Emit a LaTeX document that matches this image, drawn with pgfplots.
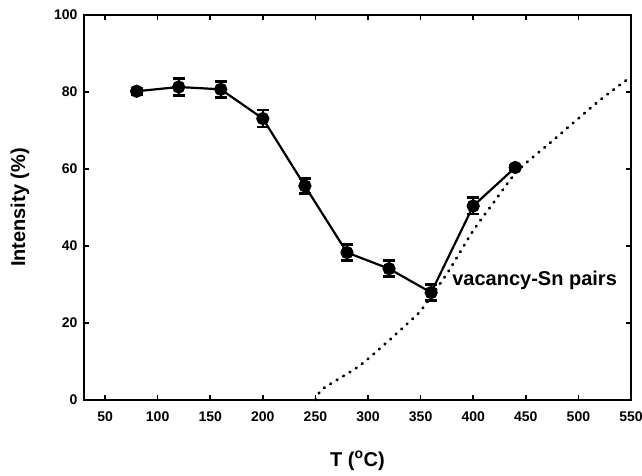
\documentclass[border=0pt]{standalone}
\usepackage{fontspec}
\setmainfont{Liberation Sans}
\usepackage{pgfplots}
\pgfplotsset{compat=1.18}

\begin{document}
\begin{tikzpicture}
\begin{axis}[
    scale only axis,
    width=547pt, height=385pt,
    xmin=30, xmax=550, ymin=0, ymax=100,
    xtick={50,100,...,550}, ytick={0,20,...,100},
    tick align=inside, major tick length=5pt,
    every tick/.style={line width=1.6pt, black},
    axis line style={line width=2.4pt},
    tick label style={font=\fontsize{14}{16}\selectfont\bfseries},
    xticklabel style={yshift=-8.5pt},
    yticklabel style={xshift=-3pt},
    /pgf/number format/assume math mode=true,
    xlabel={T (\textsuperscript{o}C)},
    ylabel={Intensity (\%)},
    label style={font=\fontsize{20}{22}\selectfont\bfseries},
    xlabel style={at={(axis description cs:0.5,-0.158)}, anchor=center},
    ylabel style={at={(axis description cs:-0.117,0.5)}, anchor=center},
    clip=false,
]
% vacancy-Sn pairs curve
\addplot[black, line width=2.8pt, line cap=round, dash pattern=on 0.8pt off 6.7pt, smooth, tension=0.4] coordinates {
    (250,0) (257,2.9) (291,8.7) (318,15) (338,20) (351,23.5)
    (375,32.8) (400,44) (420,51.5) (442,59.5) (474,67) (488,70.3)
    (521,78) (550,84)
};
% measured intensity
\addplot[black, line width=2.2pt, mark=*, mark size=5.5pt,
    error bars/.cd, y dir=both, y explicit,
    error bar style={line width=2.2pt},
    error mark options={rotate=90, mark size=6pt, line width=2.8pt}]
    table[x=T, y=I, y error=e] {
T   I     e
80  80.2  0.8
120 81.3  2.2
160 80.7  2.1
200 73.1  2.2
240 55.6  2.0
280 38.3  2.0
320 34.1  2.1
360 27.9  2.1
400 50.4  2.1
440 60.4  0.6
};
\node[anchor=west, inner sep=0pt, font=\fontsize{20}{22}\selectfont\bfseries] at (axis cs:380,31.1) {vacancy-Sn pairs};
\end{axis}
\pgfresetboundingbox
\path (-84pt,-75pt) rectangle (558pt,400pt);
\end{tikzpicture}
\end{document}
